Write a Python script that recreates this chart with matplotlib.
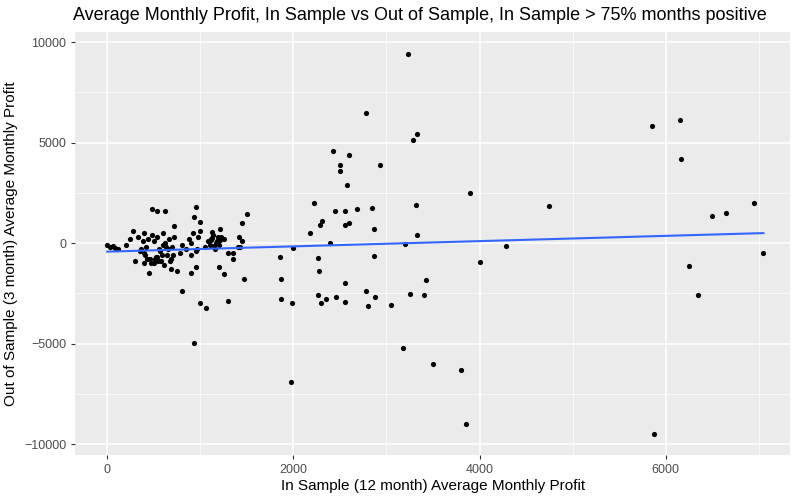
import numpy as np
import matplotlib
matplotlib.use("Agg")
import matplotlib.pyplot as plt
from matplotlib.ticker import MultipleLocator

plt.rcParams['font.family'] = ['Liberation Sans', 'DejaVu Sans']

x_sparse = [3230,2780,3330,3290,2430,2600,2500,2500,2580,2930,5850,6150,6170,3900,4750,6950,6650,6500,7050,6250,6350,5880,3860,3800,3500,3180,1970,930,4000,4280,3320,3330,3200,3250,3420,3400,3050,2800,2880,2780,2870,2870,2850,2680,2560,2600,2560,2550,2550,2460,2350,2300,2270,2280,2260,2390,2310,2290,2220,2180,2450,1870,1860,1870,1980,2000,1500,1450,1470,1300,1060,1000,800,950,900,1200,1250,1350,1430,1420,1210,1130,1000,950,930,620,480,540,720,280,400]
y_sparse = [9400,6450,5400,5150,4600,4400,3900,3600,2900,3900,5800,6100,4200,2500,1850,2000,1500,1350,-500,-1150,-2600,-9500,-9000,-6300,-6000,-5200,-6900,-4950,-950,-150,1900,400,-50,-2550,-1850,-2600,-3100,-3150,-2700,-2400,-650,700,1750,1700,1600,1000,900,-2000,-2950,-2700,-2800,-3000,-2600,-1400,-750,0,1100,900,2000,500,1600,-1800,-700,-2800,-3000,-250,1450,1000,-1800,-2900,-3250,-3000,-2400,-1200,-1500,-1200,-1550,-500,-200,300,700,550,1050,1800,1300,1600,1700,1600,850,600,500]
x_dense = [0,30,60,80,120,200,250,300,330,350,380,400,420,440,460,480,500,500,520,540,560,580,600,600,620,640,660,680,700,720,750,780,800,850,880,900,950,980,1000,1050,1080,1100,1120,1140,1160,1180,1200,1220,1250,1300,1350,1400,1450,450,470,510,530,550,570,590,610,630,650,670,690,710,430,410,390,360,1110,1130,1150,1170,1190,1210,900,920,960]
y_dense = [-100,-200,-150,-250,-300,-100,200,-900,300,-400,100,-500,-200,200,-800,400,-1000,100,-700,300,-300,-900,500,-100,0,-600,200,-800,-200,300,-1400,-500,-100,-300,200,0,-400,300,600,-200,100,-100,200,400,-300,100,-100,300,200,-500,-800,-200,100,-1500,-1000,-800,-700,-900,-400,-600,-1100,-200,-300,-900,-1300,-600,-800,-600,-1000,-300,150,250,-150,0,300,150,-600,500,-300]

x = np.array(x_sparse + x_dense, float)
y = np.array(y_sparse + y_dense, float)

fig = plt.figure(figsize=(8, 5), dpi=100)
ax = fig.add_axes([0.094, 0.09, 0.8935, 0.846])
ax.set_facecolor("#EBEBEB")
ax.set_xlim(-344, 7336)
ax.set_ylim(-10547, 10500)
ax.xaxis.set_major_locator(MultipleLocator(2000))
ax.xaxis.set_minor_locator(MultipleLocator(1000))
ax.yaxis.set_major_locator(MultipleLocator(5000))
ax.yaxis.set_minor_locator(MultipleLocator(2500))
ax.grid(which="major", color="white", lw=1.1)
ax.grid(which="minor", color="white", lw=0.5)
ax.set_axisbelow(True)
for s in ax.spines.values():
    s.set_visible(False)
ax.tick_params(which="major", length=3, color="#333333", labelcolor="#4D4D4D", labelsize=9)
ax.tick_params(which="minor", length=0)

ax.scatter(x, y, s=14, color="black", zorder=3, linewidths=0)
b, a = np.polyfit(x, y, 1)
xl = np.array([x.min(), x.max()])
ax.plot(xl, a + b * xl, color="#3366FF", lw=1.5, zorder=4)

ax.set_xlabel("In Sample (12 month) Average Monthly Profit", fontsize=11, labelpad=2)
ax.set_ylabel("Out of Sample (3 month) Average Monthly Profit", fontsize=11, labelpad=4)
fig.suptitle("Average Monthly Profit, In Sample vs Out of Sample, In Sample > 75% months positive",
             fontsize=13, x=0.525, y=0.985)
fig.savefig("out.png", dpi=100)
